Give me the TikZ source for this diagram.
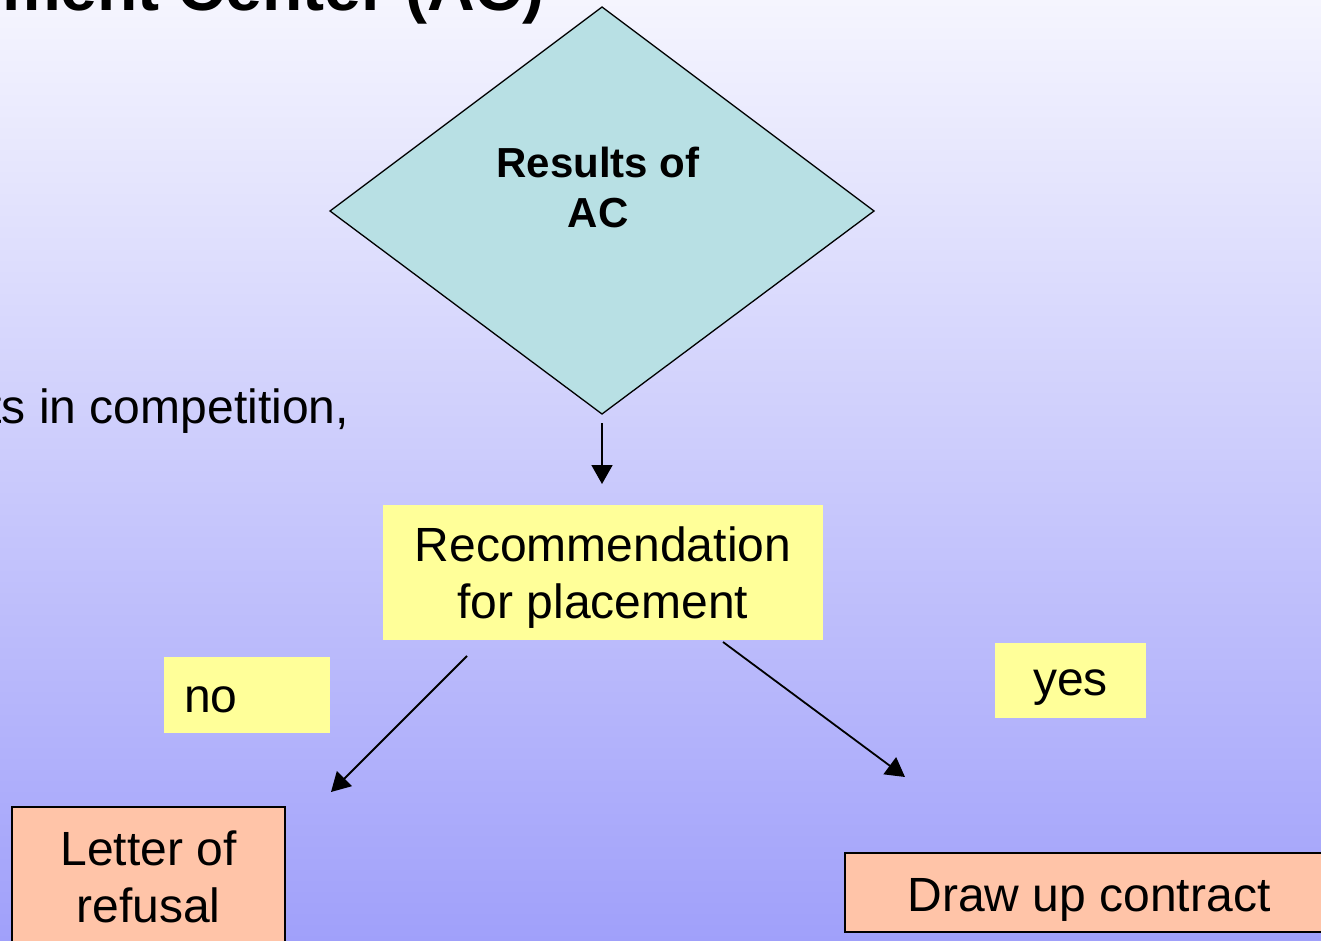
\documentclass[tikz,border=0pt]{standalone}
\usepackage{fontspec}
\setmainfont{Liberation Sans}
\usetikzlibrary{arrows.meta}
\definecolor{bgtop}{RGB}{245,245,254}
\definecolor{bgbot}{RGB}{160,160,250}
\definecolor{diafill}{RGB}{184,224,228}
\definecolor{yel}{RGB}{255,255,153}
\definecolor{salmon}{RGB}{255,196,168}
\tikzset{
  arr/.style={line width=1.8pt,-{Triangle[length=19pt,width=21pt]}},
  yelbox/.style={fill=yel,draw=none,inner sep=0pt},
  salbox/.style={fill=salmon,draw=black,line width=1.4pt,inner sep=0pt},
  big/.style={font=\fontsize{48}{57}\selectfont},
}
\begin{document}
\begin{tikzpicture}[x=1pt,y=-1pt]
\useasboundingbox (0,0) rectangle (1321,941);
\clip (0,0) rectangle (1321,941);
\shade[top color=bgtop,bottom color=bgbot] (0,0) rectangle (1321,941);
% title (cut at top)
\node[anchor=base east,inner sep=0pt,font=\fontsize{66}{70}\selectfont\bfseries] (title) at (545,11) {Assessment Center (AC)};
% left bullet text (cut at left)
\node[anchor=base east,inner sep=0pt,big] (bullet) at (349,423) {ts in competition,};
% diamond
\coordinate (dt) at (602,7);
\coordinate (dl) at (330,211);
\coordinate (dr) at (874,211);
\coordinate (db) at (602,414);
\filldraw[fill=diafill,draw=black,line width=1.3pt,line join=miter] (dt) -- (dr) -- (db) -- (dl) -- cycle;
\node[align=center,inner sep=0pt,font=\fontsize{42}{50}\selectfont\bfseries] (res) at (598,187) {Results of\\AC};
% recommendation
\node[yelbox,minimum width=440pt,minimum height=135pt,align=center,big,text depth=0pt] (rec) at (603,572.5) {Recommendation\\for placement};
% no / yes labels
\node[yelbox,minimum width=166pt,minimum height=76pt,text width=126pt,align=left,big,text height=35pt,text depth=0pt] (no) at (247,695) {no};
\node[yelbox,minimum width=151pt,minimum height=75pt,big,text height=29pt,text depth=0pt] (yes) at (1070.5,680.5) {yes};
% result boxes
\node[salbox,minimum width=273pt,minimum height=140pt,align=center,big] (refuse) at (148.5,877) {Letter of\\refusal};
\node[salbox,minimum width=488pt,minimum height=79pt,big,text height=37pt,text depth=0pt] (contract) at (1089,892.5) {Draw up contract};
% connectors
\coordinate (a1s) at (602,423);
\coordinate (a1e) at (602,484);
\coordinate (a2s) at (467,656);
\coordinate (a2e) at (331,792);
\coordinate (a3s) at (723,642);
\coordinate (a3e) at (905,777);
\draw[arr] (a1s) -- (a1e);
\draw[arr] (a2s) -- (a2e);
\draw[arr] (a3s) -- (a3e);
\end{tikzpicture}
\end{document}
